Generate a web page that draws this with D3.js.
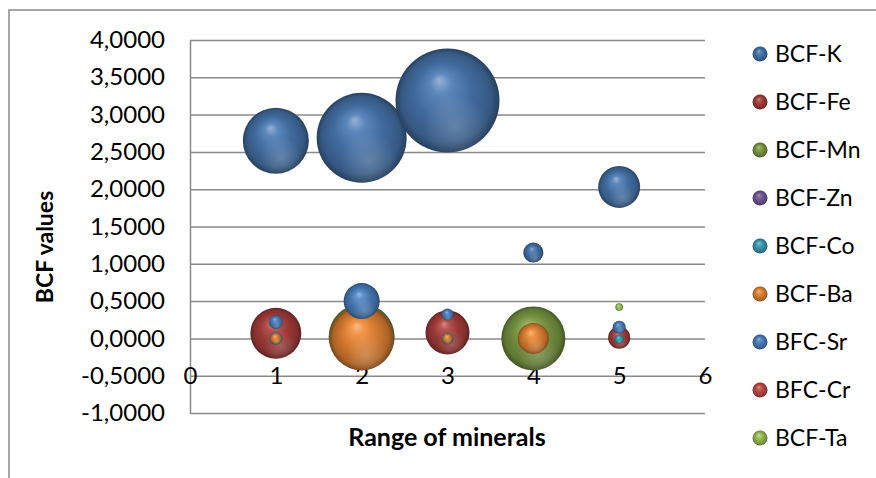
<!DOCTYPE html>
<html>
<head>
<meta charset="utf-8">
<script src="https://cdn.jsdelivr.net/npm/d3@7/dist/d3.min.js"></script>
<style>
  html, body { margin: 0; padding: 0; background: #ffffff; }
  svg { display: block; }
  text { font-family: Lato, "Open Sans", sans-serif; fill: #000; }
</style>
</head>
<body>
<svg id="chart" width="876" height="478"></svg>
<script>
// Category positions on the horizontal axis
const xPositions = [1, 2, 3, 4, 5];

// Series names (legend order = drawing order)
const seriesNames = ["BCF-K", "BCF-Fe", "BCF-Mn", "BCF-Zn", "BCF-Co", "BCF-Ba", "BFC-Sr", "BFC-Cr", "BCF-Ta"];
const seriesColors = ["#4A7AB5", "#B0413E", "#82A247", "#7A5C9E", "#3FA3BD", "#F08A35", "#4F86C6", "#C94E4A", "#A3C85A"];

// BCF values per series at x = 1..5 (null = no bubble)
const valK  = [2.65, 2.69, 3.19, 1.15, 2.03];
const valFe = [0.07, null, 0.08, null, 0.01];
const valMn = [null, 0.02, null, 0.00, null];
const valZn = [null, null, null, null, null];
const valCo = [0.00, null, 0.00, null, -0.01];
const valBa = [0.00, 0.00, 0.00, 0.00, null];
const valSr = [0.22, 0.50, 0.32, null, 0.15];
const valCr = [null, null, null, null, null];
const valTa = [null, null, null, null, 0.42];

// Bubble sizes (relative units)
const sizeK  = [40.3, 74.9, 100, 3.7, 16.3];
const sizeFe = [24.0, null, 17.9, null, 4.5];
const sizeMn = [null, 40.3, null, 37.9, null];
const sizeZn = [null, null, null, null, null];
const sizeCo = [1.56, null, 1.33, null, 0.75];
const sizeBa = [1.12, 37.9, 0.92, 8.9, null];
const sizeSr = [1.81, 12.0, 1.33, null, 1.56];
const sizeCr = [null, null, null, null, null];
const sizeTa = [null, null, null, null, 0.55];

// Axis ticks
const yTicks = [-1, -0.5, 0, 0.5, 1, 1.5, 2, 2.5, 3, 3.5, 4];
const xTicks = [0, 1, 2, 3, 4, 5, 6];

const values = [valK, valFe, valMn, valZn, valCo, valBa, valSr, valCr, valTa];
const sizes  = [sizeK, sizeFe, sizeMn, sizeZn, sizeCo, sizeBa, sizeSr, sizeCr, sizeTa];

const series = seriesNames.map((name, i) => ({
  name, color: seriesColors[i], idx: i,
  points: xPositions.map((xv, j) => ({ x: xv, y: values[i][j], s: sizes[i][j] }))
                    .filter(p => p.y !== null && p.s !== null)
}));

const svg = d3.select("#chart");
const plot = { left: 190, right: 705, top: 40, bottom: 413 };

const x = d3.scaleLinear().domain([0, 6]).range([plot.left, plot.right]);
const y = d3.scaleLinear().domain([-1, 4]).range([plot.bottom, plot.top]);
const r = d3.scaleSqrt().domain([0, 100]).range([0, 52]);

const locale = d3.formatLocale({ decimal: ",", thousands: ".", grouping: [3], currency: ["", ""], minus: "-" });
const fmt = locale.format(".4f");

// Chart frame
svg.append("path")
  .attr("d", "M9,478 L9,10 L876,10")
  .attr("fill", "none").attr("stroke", "#8a8a8a").attr("stroke-width", 1.5);

// Sphere-like gradients per series
const defs = svg.append("defs");
seriesColors.forEach((c, i) => {
  const base = d3.color(c);
  const g = defs.append("radialGradient").attr("id", "sph" + i)
    .attr("cx", "50%").attr("cy", "50%").attr("r", "50%")
    .attr("fx", "42%").attr("fy", "30%");
  g.append("stop").attr("offset", "0%").attr("stop-color", d3.interpolateRgb(c, "#ffffff")(0.42));
  g.append("stop").attr("offset", "20%").attr("stop-color", d3.interpolateRgb(c, "#ffffff")(0.1));
  g.append("stop").attr("offset", "55%").attr("stop-color", base.darker(0.4));
  g.append("stop").attr("offset", "86%").attr("stop-color", base.darker(0.9));
  g.append("stop").attr("offset", "100%").attr("stop-color", base.darker(1.8));
});
const refl = defs.append("radialGradient").attr("id", "refl")
  .attr("cx", "58%").attr("cy", "76%").attr("r", "32%");
refl.append("stop").attr("offset", "0%").attr("stop-color", "#ffffff").attr("stop-opacity", 0.2);
refl.append("stop").attr("offset", "100%").attr("stop-color", "#ffffff").attr("stop-opacity", 0);

// Horizontal gridlines + vertical axis
const yAxis = d3.axisLeft(y).tickValues(yTicks).tickFormat(fmt)
  .tickSizeInner(-(plot.right - plot.left)).tickSizeOuter(0).tickPadding(25);
const gy = svg.append("g").attr("transform", `translate(${plot.left},0)`).call(yAxis);
gy.select(".domain").attr("stroke", "#8a8a8a").attr("stroke-width", 1.5);
gy.selectAll(".tick line").attr("stroke", "#8a8a8a").attr("stroke-width", 1.5);
gy.selectAll(".tick text").style("font-size", "24px").attr("fill", "#000");

// Horizontal axis labels
const xAxis = d3.axisBottom(x).tickValues(xTicks).tickFormat(d3.format("d")).tickSize(0).tickPadding(0);
const gx = svg.append("g").attr("transform", `translate(0,${y(-0.5)})`).call(xAxis);
gx.select(".domain").remove();
gx.selectAll(".tick text").attr("y", 0).attr("dy", "0.36em").style("font-size", "24px").attr("fill", "#000");

// Bubbles
series.forEach(s => {
  const g = svg.append("g").attr("class", "series");
  s.points.forEach(p => {
    g.append("circle").attr("cx", x(p.x)).attr("cy", y(p.y)).attr("r", r(p.s))
      .attr("fill", `url(#sph${s.idx})`);
    g.append("circle").attr("cx", x(p.x)).attr("cy", y(p.y)).attr("r", r(p.s))
      .attr("fill", "url(#refl)");
  });
});

// Axis titles
svg.append("text").attr("transform", "translate(45,247) rotate(-90)")
  .attr("text-anchor", "middle").attr("dy", "0.35em")
  .style("font-size", "23px").style("font-weight", "bold").text("BCF values");
svg.append("text").attr("x", 447).attr("y", 437)
  .attr("text-anchor", "middle").attr("dy", "0.35em")
  .style("font-size", "25px").style("font-weight", "bold").text("Range of minerals");

// Legend
const legend = svg.append("g").attr("transform", "translate(760,54)");
const items = legend.selectAll("g").data(series).join("g")
  .attr("transform", (d, i) => `translate(0,${i * 48})`);
items.append("circle").attr("r", 7.5).attr("fill", d => `url(#sph${d.idx})`);
items.append("text").attr("x", 15).attr("dy", "0.36em")
  .style("font-size", "23px").text(d => d.name);
</script>
</body>
</html>
